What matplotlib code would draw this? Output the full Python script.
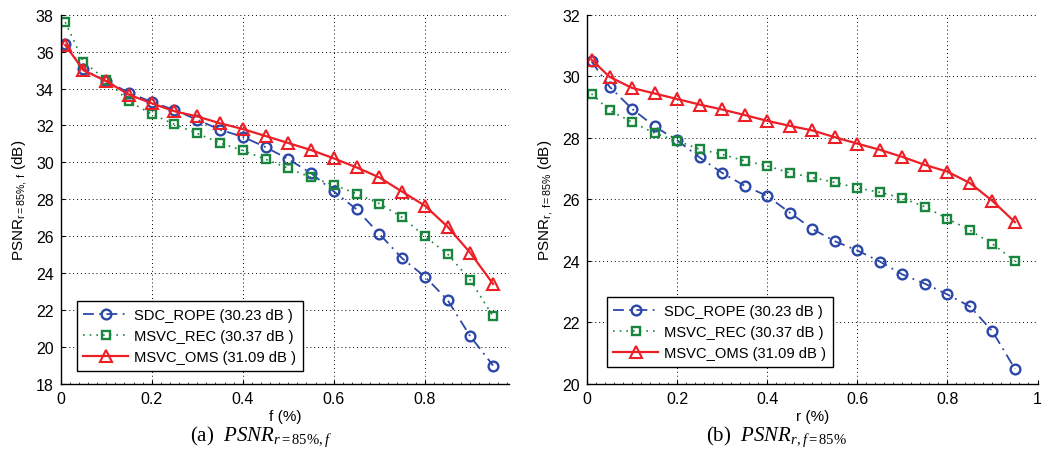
import matplotlib
matplotlib.use("Agg")
import matplotlib.pyplot as plt
from matplotlib.ticker import MultipleLocator

plt.rcParams['font.family'] = ['Liberation Sans', 'DejaVu Sans']
plt.rcParams['mathtext.fontset'] = 'custom'
plt.rcParams['mathtext.rm'] = 'Liberation Serif'
plt.rcParams['mathtext.it'] = 'Liberation Serif:italic'
plt.rcParams['mathtext.sf'] = 'Liberation Sans'

x = [0.01, 0.05, 0.10, 0.15, 0.20, 0.25, 0.30, 0.35, 0.40, 0.45,
     0.50, 0.55, 0.60, 0.65, 0.70, 0.75, 0.80, 0.85, 0.90, 0.95]

labels = ['SDC_ROPE (30.23 dB )', 'MSVC_REC (30.37 dB )', 'MSVC_OMS (31.09 dB )']

# (a) PSNR vs f, r = 85%
a_rope = [36.40, 35.05, 34.40, 33.78, 33.27, 32.84, 32.31, 31.77, 31.39, 30.83,
          30.18, 29.42, 28.43, 27.46, 26.13, 24.81, 23.82, 22.55, 20.58, 19.00]
a_rec = [37.60, 35.45, 34.46, 33.30, 32.62, 32.06, 31.57, 31.05, 30.65, 30.17,
         29.68, 29.19, 28.78, 28.31, 27.77, 27.03, 26.00, 25.04, 23.63, 21.66]
a_oms = [36.36, 34.99, 34.40, 33.67, 33.20, 32.77, 32.49, 32.12, 31.81, 31.43,
         31.05, 30.67, 30.22, 29.73, 29.19, 28.42, 27.66, 26.52, 25.10, 23.42]

# (b) PSNR vs r, f = 85%
b_rope = [30.48, 29.66, 28.94, 28.37, 27.92, 27.36, 26.86, 26.44, 26.11, 25.57,
          25.04, 24.64, 24.34, 23.98, 23.56, 23.26, 22.91, 22.52, 21.71, 20.49]
b_rec = [29.43, 28.89, 28.51, 28.15, 27.90, 27.63, 27.46, 27.25, 27.09, 26.86,
         26.71, 26.55, 26.37, 26.23, 26.04, 25.76, 25.37, 25.00, 24.55, 24.00]
b_oms = [30.54, 29.98, 29.62, 29.44, 29.26, 29.08, 28.92, 28.74, 28.55, 28.39,
         28.24, 28.02, 27.81, 27.61, 27.38, 27.12, 26.90, 26.53, 25.95, 25.26]

a_xticks = [0, 0.2, 0.4, 0.6, 0.8]
b_xticks = [0, 0.2, 0.4, 0.6, 0.8, 1]
a_yticks = [18, 20, 22, 24, 26, 28, 30, 32, 34, 36, 38]
b_yticks = [20, 22, 24, 26, 28, 30, 32]

BLUE = (0.17, 0.28, 0.66)
GREEN = (0.10, 0.52, 0.24)
RED = (0.93, 0.12, 0.15)

fig = plt.figure(figsize=(10.49, 4.56), dpi=100)
W, H = 1049, 456

def make_ax(x0, x1, y0, y1):
    return fig.add_axes([x0 / W, 1 - y1 / H, (x1 - x0) / W, (y1 - y0) / H])

axA = make_ax(60.7, 509, 15.7, 385)
axB = make_ax(587, 1037.5, 15.7, 385)

def draw(ax, rope, rec, oms, xlim, ylim, xticks, yticks, xlabel, ylabel, leg_anchor):
    ax.plot(x, rope, linestyle=(0, (6, 3, 1, 3)), color=BLUE, lw=1.3, marker='o',
            markersize=7, markerfacecolor='none', markeredgewidth=1.7, label=labels[0])
    ax.plot(x, rec, linestyle=(0, (1, 3)), color=GREEN, lw=1.2, marker='s',
            markersize=5.5, markerfacecolor='none', markeredgewidth=1.7, label=labels[1])
    ax.plot(x, oms, linestyle='-', color=RED, lw=1.6, marker='^',
            markersize=8.5, markerfacecolor='none', markeredgewidth=1.5, label=labels[2])
    ax.set_xlim(*xlim)
    ax.set_ylim(*ylim)
    ax.set_xticks(xticks)
    ax.set_xticklabels([('%g' % t) for t in xticks])
    ax.set_yticks(yticks)
    ax.xaxis.set_minor_locator(MultipleLocator(0.02))
    ax.tick_params(which='major', direction='in', length=3, labelsize=11.5, pad=5,
                   width=0.8)
    ax.tick_params(which='minor', direction='in', length=1.5, width=0.5)
    ax.tick_params(axis='y', which='minor', left=False)
    ax.grid(True, which='major', linestyle=(0, (1, 3)), color='black', lw=0.7)
    ax.set_axisbelow(True)
    for s in ('top', 'right'):
        ax.spines[s].set_visible(False)
    for s in ('left', 'bottom'):
        ax.spines[s].set_linewidth(1.0)
    ax.set_xlabel(xlabel, fontsize=11, labelpad=2)
    ax.set_ylabel(ylabel, fontsize=11, labelpad=5)
    leg = ax.legend(loc='lower left', bbox_to_anchor=leg_anchor, borderaxespad=0,
                    fontsize=10.6, handlelength=3.0, handletextpad=0.45,
                    labelspacing=0.5, borderpad=0.45, fancybox=False,
                    framealpha=1, edgecolor='black')
    leg.get_frame().set_linewidth(1.0)

draw(axA, a_rope, a_rec, a_oms, (0, 0.985), (18, 38), a_xticks, a_yticks,
     'f (%)', r'PSNR$_{\mathsf{r=85\%,\ f}}$ (dB)', (0.036, 0.035))
draw(axB, b_rope, b_rec, b_oms, (0, 1), (20, 32), b_xticks, b_yticks,
     'r (%)', r'PSNR$_{\mathsf{r,\ f=85\%}}$ (dB)', (0.044, 0.046))

fig.text(261 / W, 1 - 437 / H, r'(a)  $PSNR_{r=85\%,f}$', ha='center', va='center',
         fontsize=15, family='Liberation Serif')
fig.text(776 / W, 1 - 437 / H, r'(b)  $PSNR_{r,f=85\%}$', ha='center', va='center',
         fontsize=15, family='Liberation Serif')

fig.savefig('out.png', dpi=100)
